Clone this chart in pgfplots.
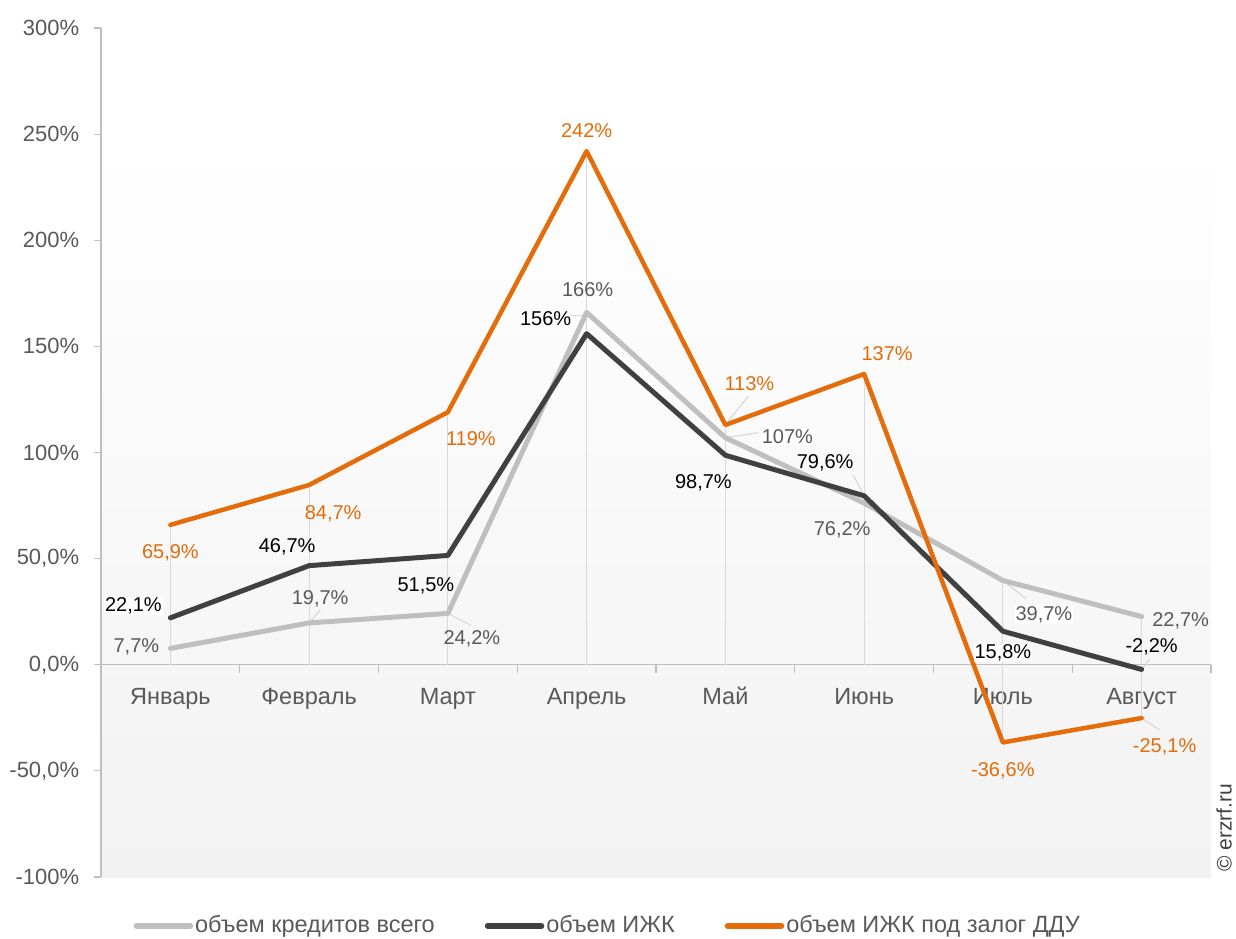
\documentclass[border=0pt]{standalone}
\usepackage{fontspec}
\setmainfont{Liberation Sans}
\usepackage{pgfplots}
\pgfplotsset{compat=1.18}
\definecolor{cgrey}{HTML}{BFBFBF}
\definecolor{cdark}{HTML}{404040}
\definecolor{corange}{HTML}{E46C0A}
\definecolor{ctext}{HTML}{595959}
\definecolor{cdrop}{HTML}{D9D9D9}
\definecolor{cbg}{HTML}{F2F2F2}
\begin{document}
\fontsize{20}{24}\selectfont
\begin{tikzpicture}
\path[use as bounding box] (0,0) rectangle (1236pt,-938pt);
\fill[top color=white, bottom color=cbg] (101pt,-138pt) rectangle (1211pt,-877pt);
\begin{axis}[
  at={(101pt,-877pt)}, anchor=south west,
  scale only axis, width=1110pt, height=849pt,
  xmin=-0.5, xmax=7.5, ymin=-100, ymax=300,
  clip=false,
  axis y line=left, axis x line=middle,
  axis line style={cgrey, line width=1.2pt, -},
  hide obscured x ticks=false,
  tick align=outside,
  ytick={-100,-50,0,50,100,150,200,250,300},
  yticklabels={{-100\%},{-50,0\%},{0,0\%},{50,0\%},{100\%},{150\%},{200\%},{250\%},{300\%}},
  ytick style={cgrey, line width=1.2pt},
  major tick length=7pt,
  minor tick length=8pt,
  xtick={0,1,2,3,4,5,6,7},
  xticklabels={Январь,Февраль,Март,Апрель,Май,Июнь,Июль,Август},
  major x tick style={draw=none},
  minor xtick={-0.5,0.5,1.5,2.5,3.5,4.5,5.5,6.5,7.5},
  minor x tick style={cgrey, line width=1.2pt},
  xticklabel style={text=ctext, yshift=-9pt, text height=17pt, text depth=5pt, font=\fontsize{23.5}{28}\selectfont},
  yticklabel style={text=ctext, xshift=-8pt, font=\fontsize{22}{26}\selectfont},
  legend style={draw=none, fill=none, at={(axis description cs:0.4565,-0.0575)}, anchor=center,
    legend columns=3, text=ctext, font=\fontsize{23.5}{28}\selectfont,
    /tikz/every even column/.append style={column sep=48pt}},
  legend image code/.code={\draw[#1, line width=5.5pt, line cap=round] (0pt,0pt) -- (54pt,0pt);},
]
\addplot[ycomb, cdrop, line width=1.2pt, forget plot] coordinates {(0,65.9)(1,84.7)(2,119)(3,242)(4,113)(5,137)(6,39.7)(7,22.7)};
\addplot[ycomb, cdrop, line width=1.2pt, forget plot] coordinates {(6,-36.6)(7,-25.1)};
% leader lines
\draw[cdrop, line width=1.2pt] (axis cs:1,19.7) -- ++(11pt,13pt);
\draw[cdrop, line width=1.2pt] (axis cs:2,24.2) -- ++(23pt,-12pt);
\draw[cdrop, line width=1.2pt] (axis cs:3,166) ++(0pt,-3pt) -- ++(-16pt,0pt);
\draw[cdrop, line width=1.2pt] (axis cs:4,113) -- ++(23pt,29pt);
\draw[cdrop, line width=1.2pt] (axis cs:4,107) -- ++(33pt,5pt);
\draw[cdrop, line width=1.2pt] (axis cs:5,79.6) -- ++(-11pt,21pt);
\draw[cdrop, line width=1.2pt] (axis cs:6,39.7) -- ++(23pt,-18pt);
\draw[cdrop, line width=1.2pt] (axis cs:7,-2.2) -- ++(8pt,10pt);
\draw[cdrop, line width=1.2pt] (axis cs:7,-25.1) -- ++(18pt,-12pt);
\addplot[cgrey, line width=5pt, line join=round, line cap=round] coordinates {(0,7.7)(1,19.7)(2,24.2)(3,166)(4,107)(5,76.2)(6,39.7)(7,22.7)};
\addlegendentry{объем кредитов всего}
\addplot[cdark, line width=5pt, line join=round, line cap=round] coordinates {(0,22.1)(1,46.7)(2,51.5)(3,156)(4,98.7)(5,79.6)(6,15.8)(7,-2.2)};
\addlegendentry{объем ИЖК}
\addplot[corange, line width=4.5pt, line join=round, line cap=round] coordinates {(0,65.9)(1,84.7)(2,119)(3,242)(4,113)(5,137)(6,-36.6)(7,-25.1)};
\addlegendentry{объем ИЖК под залог ДДУ}
% grey labels
\node[text=ctext, xshift=-34pt, yshift=2pt] at (axis cs:0,7.7) {7,7\%};
\node[text=ctext, xshift=11pt, yshift=24pt] at (axis cs:1,19.7) {19,7\%};
\node[text=ctext, xshift=24pt, yshift=-25pt] at (axis cs:2,24.2) {24,2\%};
\node[text=ctext, xshift=1pt, yshift=23pt] at (axis cs:3,166) {166\%};
\node[text=ctext, fill=white, inner sep=1pt, xshift=62pt, yshift=1pt] at (axis cs:4,107) {107\%};
\node[text=ctext, xshift=-22pt, yshift=-27pt] at (axis cs:5,76.2) {76,2\%};
\node[text=ctext, fill=white, inner sep=1pt, xshift=41pt, yshift=-34pt] at (axis cs:6,39.7) {39,7\%};
\node[text=ctext, xshift=39pt, yshift=-4pt] at (axis cs:7,22.7) {22,7\%};
% dark labels
\node[text=black, fill=white, inner sep=1pt, xshift=-37pt, yshift=12pt] at (axis cs:0,22.1) {22,1\%};
\node[text=black, xshift=-22pt, yshift=19pt] at (axis cs:1,46.7) {46,7\%};
\node[text=black, xshift=-22pt, yshift=-30pt] at (axis cs:2,51.5) {51,5\%};
\node[text=black, xshift=-41pt, yshift=15pt] at (axis cs:3,156) {156\%};
\node[text=black, xshift=-22pt, yshift=-28pt] at (axis cs:4,98.7) {98,7\%};
\node[text=black, xshift=-39pt, yshift=33pt] at (axis cs:5,79.6) {79,6\%};
\node[text=black, fill=white, inner sep=1pt, xshift=0pt, yshift=-22pt] at (axis cs:6,15.8) {15,8\%};
\node[text=black, xshift=10pt, yshift=23pt] at (axis cs:7,-2.2) {-2,2\%};
% orange labels
\node[text=corange, xshift=0pt, yshift=-28pt] at (axis cs:0,65.9) {65,9\%};
\node[text=corange, xshift=24pt, yshift=-29pt] at (axis cs:1,84.7) {84,7\%};
\node[text=corange, xshift=23pt, yshift=-26pt] at (axis cs:2,119) {119\%};
\node[text=corange, xshift=0pt, yshift=21pt] at (axis cs:3,242) {242\%};
\node[text=corange, xshift=24pt, yshift=41pt] at (axis cs:4,113) {113\%};
\node[text=corange, xshift=23pt, yshift=20pt] at (axis cs:5,137) {137\%};
\node[text=corange, xshift=0pt, yshift=-28pt] at (axis cs:6,-36.6) {-36,6\%};
\node[text=corange, xshift=23pt, yshift=-29pt] at (axis cs:7,-25.1) {-25,1\%};
\end{axis}
\node[rotate=90, text=cdark, font=\fontsize{21}{24}\selectfont] at (1224pt,-828pt) {© erzrf.ru};
\end{tikzpicture}
\end{document}
